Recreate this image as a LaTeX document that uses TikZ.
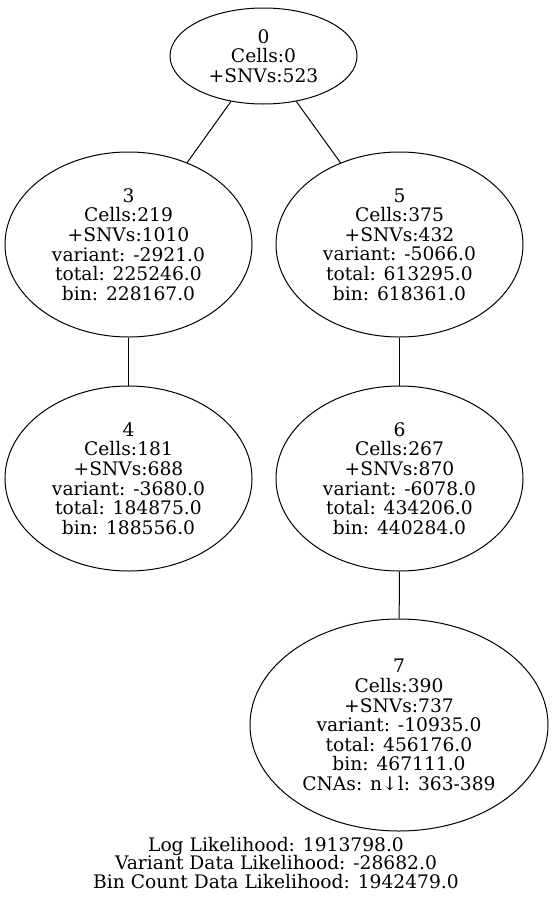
\documentclass[tikz,border=0pt]{standalone}
\usepackage{fontspec}
\setmainfont{DejaVu Serif}
\usepackage{tikz}
\usetikzlibrary{shapes.geometric}

\begin{document}
\begin{tikzpicture}[x=0.75pt, y=-0.75pt,
    clone/.style={draw, ellipse, inner sep=0pt, align=center, line width=0.75pt,
                  font=\fontsize{14}{14.7}\selectfont},
    clone size/.style 2 args={minimum width={#1*0.75pt}, minimum height={#2*0.75pt}},
    tree edge/.style={draw, line width=0.75pt}]

    % Canvas
    \useasboundingbox (0,0) rectangle (553,903);

    % Clones
    \node[clone, clone size={187}{96}] (c0) at (263.5,56)
        {0\\Cells:0\\+SNVs:523};
    \node[clone, clone size={247}{185}] (c3) at (128.5,244.5)
        {3\\Cells:219\\+SNVs:1010\\variant: -2921.0\\total: 225246.0\\bin: 228167.0};
    \node[clone, clone size={247}{185}] (c5) at (399.5,244.5)
        {5\\Cells:375\\+SNVs:432\\variant: -5066.0\\total: 613295.0\\bin: 618361.0};
    \node[clone, clone size={247}{185}] (c4) at (128.5,478.5)
        {4\\Cells:181\\+SNVs:688\\variant: -3680.0\\total: 184875.0\\bin: 188556.0};
    \node[clone, clone size={247}{185}] (c6) at (399.5,478.5)
        {6\\Cells:267\\+SNVs:870\\variant: -6078.0\\total: 434206.0\\bin: 440284.0};
    \node[clone, clone size={298}{212}] (c7) at (399,725)
        {7\\Cells:390\\+SNVs:737\\variant: -10935.0\\total: 456176.0\\bin: 467111.0\\CNAs: n↓l: 363-389};

    % Tree edges
    \draw[tree edge] (c0) -- (c3);
    \draw[tree edge] (c0) -- (c5);
    \draw[tree edge] (c3) -- (c4);
    \draw[tree edge] (c5) -- (c6);
    \draw[tree edge] (c6) -- (c7);

    % Likelihood summary
    \node[align=center, font=\fontsize{14}{14.2}\selectfont] (summary) at (276,863)
        {Log Likelihood: 1913798.0\\Variant Data Likelihood: -28682.0\\Bin Count Data Likelihood: 1942479.0};

\end{tikzpicture}
\end{document}
